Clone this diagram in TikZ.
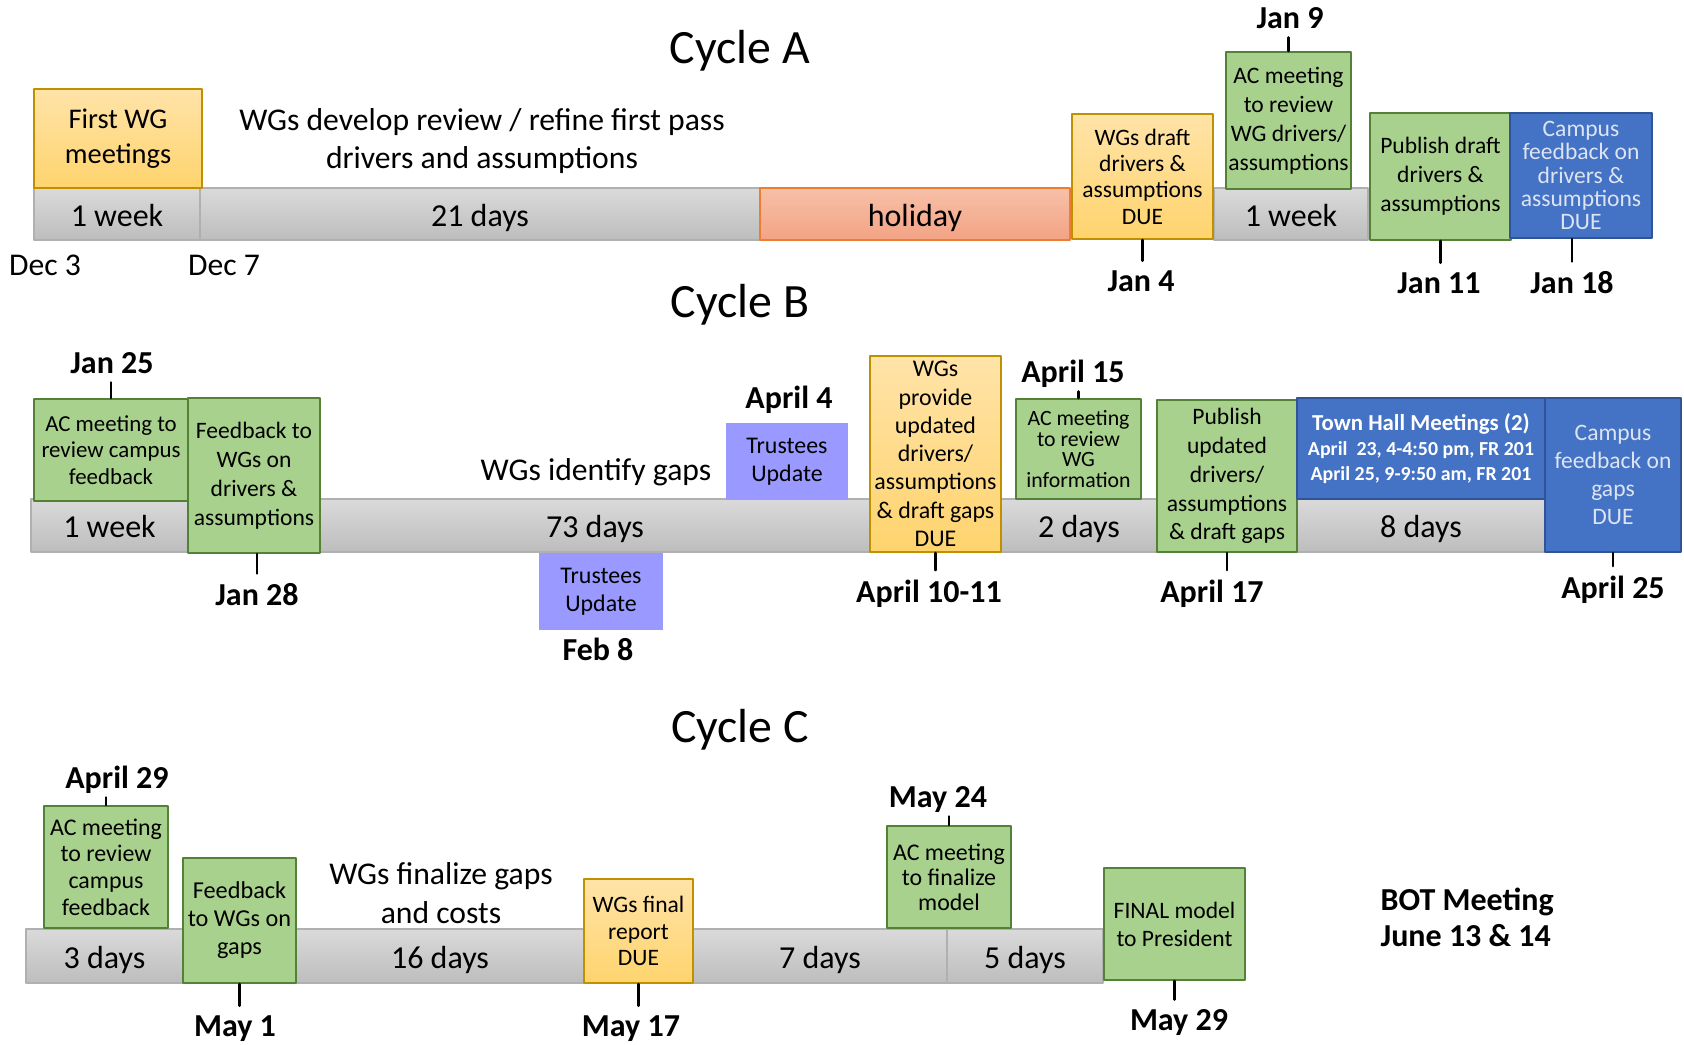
\documentclass[tikz,border=0pt]{standalone}
\usepackage{fontspec}
\setmainfont{Carlito}
\usetikzlibrary{positioning}

\definecolor{bartop}{HTML}{DADADA}
\definecolor{barbot}{HTML}{BDBDBD}
\definecolor{barline}{HTML}{B0B0B0}
\definecolor{goldtop}{HTML}{FFE3A8}
\definecolor{goldbot}{HTML}{FFD46E}
\definecolor{goldline}{HTML}{BF9000}
\definecolor{holtop}{HTML}{F7C0A8}
\definecolor{holbot}{HTML}{F3A384}
\definecolor{holline}{HTML}{ED7D31}
\definecolor{grnfill}{HTML}{A9D18E}
\definecolor{grnline}{HTML}{538135}
\definecolor{blufill}{HTML}{4472C4}
\definecolor{bluline}{HTML}{2F5597}
\definecolor{blutext}{HTML}{DCE4F2}
\definecolor{lavfill}{HTML}{9999FF}

\newcommand{\titletxt}{\fontsize{13.6}{15}\selectfont}
\newcommand{\bartxt}{\fontsize{9.1}{10}\selectfont}
\newcommand{\notetxt}{\fontsize{9}{11}\selectfont}
\newcommand{\datetxt}{\bfseries\fontsize{9.1}{10}\selectfont}
\newcommand{\boxtxt}{\fontsize{6.7}{8.2}\selectfont}

\tikzset{
  sz/.style 2 args={minimum width=#1*0.01cm, minimum height=#2*0.01cm},
  seg/.style={draw=barline, line width=0.5pt, top color=bartop, bottom color=barbot,
    inner sep=0pt, text height=0.7em, text depth=0pt, font=\bartxt},
  hol/.style={seg, draw=holline, top color=holtop, bottom color=holbot},
  gold/.style={draw=goldline, line width=0.6pt, top color=goldtop, bottom color=goldbot,
    align=center, inner sep=0pt, font=\boxtxt},
  grn/.style={draw=grnline, line width=0.6pt, fill=grnfill, align=center, inner sep=0pt, font=\boxtxt},
  blu/.style={draw=bluline, line width=0.6pt, fill=blufill, align=center, inner sep=0pt,
    text=blutext, font=\boxtxt},
  lav/.style={fill=lavfill, align=center, inner sep=0pt, font=\fontsize{6.8}{8}\selectfont},
  title/.style={anchor=base, font=\titletxt},
  note/.style={align=center, font=\notetxt},
  date/.style={anchor=base, inner sep=2.5pt, text depth=0pt, font=\datetxt},
  tick/.style={line width=0.8pt}
}

\begin{document}
\begin{tikzpicture}[x=0.01cm, y=-0.01cm, line join=round, line cap=round]
\useasboundingbox (0,0) rectangle (1684,1044);

% Cycle A
\node[title] (cyca) at (740,63) {Cycle A};
\node[seg, sz={166}{52}] (awk) at (117,214) {1 week};
\node[seg, sz={560}{52}] (a21) at (480,214) {21 days};
\node[hol, sz={310}{52}] (ahol) at (915,214) {holiday};
\node[seg, sz={154}{52}] (awkb) at (1291,214) {1 week};
\node[gold, sz={168}{99}, font=\fontsize{8.1}{9.8}\selectfont] (firstwg) at (118,138.5) {First WG\\meetings};
\node[gold, sz={141}{125}, font=\fontsize{6.7}{7.5}\selectfont] (wgdraft) at (1142.5,176.5) {WGs draft\\drivers \&\\assumptions\\DUE};
\node[grn, sz={125}{137}] (acrev) at (1288.5,120.5) {AC meeting\\to review\\WG drivers/\\assumptions};
\node[grn, sz={141}{127}] (pubdraft) at (1440.5,176.5) {Publish draft\\drivers \&\\assumptions};
\node[blu, sz={142}{125}, font=\fontsize{6.7}{6.6}\selectfont] (campa) at (1581,175.5) {Campus\\feedback on\\drivers \&\\assumptions\\DUE};
\node[note] (devtxt) at (482,141) {WGs develop review / refine first pass\\drivers and assumptions};
\node[anchor=base, font=\fontsize{9}{10}\selectfont] (dec3) at (45,275) {Dec 3};
\node[anchor=base, font=\fontsize{9}{10}\selectfont] (dec7) at (224,275) {Dec 7};
\node[date] (jan9) at (1290,28) {Jan 9};
\node[date] (jan4) at (1141,291) {Jan 4};
\node[date] (jan11) at (1439,293) {Jan 11};
\node[date] (jan18) at (1572,293) {Jan 18};
\draw[tick] (acrev.north) -- (acrev.north |- jan9.south);
\draw[tick] (wgdraft.south) -- (wgdraft.south |- jan4.north);
\draw[tick] (pubdraft.south) -- (pubdraft.south |- jan11.north);
\draw[tick] (jan18.north) -- (jan18.north |- campa.south);

% Cycle B
\node[title] (cycb) at (740,317) {Cycle B};
\node[seg, sz={157}{53}] (bwk) at (109.5,525.5) {1 week};
\node[seg, sz={550}{53}] (b73) at (595,525.5) {73 days};
\node[seg, sz={156}{53}] (b2d) at (1079,525.5) {2 days};
\node[seg, sz={248}{53}] (b8d) at (1421,525.5) {8 days};
\node[grn, sz={154}{102}, font=\fontsize{6.5}{7.6}\selectfont] (acfb) at (111,450) {AC meeting to\\review campus\\feedback};
\node[grn, sz={132}{155}, font=\fontsize{6.7}{8.2}\selectfont] (fbwg) at (254,475.5) {Feedback to\\WGs on\\drivers \&\\assumptions};
\node[lav, sz={122}{77}] (trapr) at (787,461.5) {Trustees\\Update};
\node[lav, sz={124}{77}] (trfeb) at (601,591.5) {Trustees\\Update};
\node[gold, sz={131}{196}, font=\fontsize{6.8}{8.05}\selectfont] (wgprov) at (935.5,454) {WGs\\provide\\updated\\drivers/\\assumptions\\\& draft gaps\\DUE};
\node[grn, sz={125}{100}, font=\fontsize{6.2}{5.9}\selectfont] (acinfo) at (1078.5,449) {AC meeting\\to review\\WG\\information};
\node[grn, sz={140}{152}, font=\fontsize{6.7}{8.2}\selectfont] (pubupd) at (1227,476) {Publish\\updated\\drivers/\\assumptions\\\& draft gaps};
\node[blu, sz={248}{101}, text=white, font=\bfseries\fontsize{5.65}{7.2}\selectfont] (town) at (1421,448.5)
  {{\fontsize{6.5}{7.2}\selectfont Town Hall Meetings (2)}\\April\ \ 23, 4-4:50 pm, FR 201\\April 25, 9-9:50 am, FR 201};
\node[blu, sz={136}{154}, font=\fontsize{6.7}{8}\selectfont] (campb) at (1613,475) {Campus\\feedback on\\gaps\\DUE};
\node[note, anchor=base] (gaptxt) at (596,480) {WGs identify gaps};
\node[date] (jan25) at (112,373) {Jan 25};
\node[date] (jan28) at (257,605) {Jan 28};
\node[date] (apr4) at (789,408) {April 4};
\node[date] (feb8) at (598,660) {Feb 8};
\node[date] (apr10) at (929,602) {April 10-11};
\node[date] (apr15) at (1073,382) {April 15};
\node[date] (apr17) at (1212,602) {April 17};
\node[date] (apr25) at (1613,598) {April 25};
\draw[tick] (acfb.north) -- (acfb.north |- jan25.south);
\draw[tick] (jan28.north) -- (jan28.north |- fbwg.south);
\draw[tick] (wgprov.south) -- (wgprov.south |- apr10.north);
\draw[tick] (acinfo.north) -- (acinfo.north |- apr15.south);
\draw[tick] (pubupd.south) -- (pubupd.south |- apr17.north);
\draw[tick] (campb.south) -- (campb.south |- apr25.north);

% Cycle C
\node[title] (cycc) at (740,742) {Cycle C};
\node[seg, sz={157}{54}] (c3d) at (104.5,956) {3 days};
\node[seg, sz={288}{54}] (c16) at (440,956) {16 days};
\node[seg, sz={254}{54}] (c7d) at (820,956) {7 days};
\node[seg, sz={156}{54}] (c5d) at (1025,956) {5 days};
\node[grn, sz={124}{122}, font=\fontsize{6.8}{7.6}\selectfont] (acfbc) at (106,867) {AC meeting\\to review\\campus\\feedback};
\node[grn, sz={113}{125}, font=\fontsize{6.9}{8}\selectfont] (fbgap) at (239.5,920.5) {Feedback\\to WGs on\\gaps};
\node[gold, sz={109}{104}, font=\fontsize{6.7}{7.6}\selectfont] (finrep) at (638.5,931) {WGs final\\report\\DUE};
\node[grn, sz={124}{102}, font=\fontsize{6.8}{7.1}\selectfont] (acfin) at (949,877) {AC meeting\\to finalize\\model};
\node[grn, sz={141}{112}, font=\fontsize{6.7}{8}\selectfont] (finpres) at (1174.5,924) {FINAL model\\to President};
\node[note] (fintxt) at (441,893) {WGs finalize gaps\\and costs};
\node[anchor=north west, align=left, inner sep=0pt, font=\bfseries\fontsize{9.1}{10.4}\selectfont] (bot) at (1380,887) {BOT Meeting\\June 13 \& 14};
\node[date] (apr29) at (117,788) {April 29};
\node[date] (may1) at (235,1036) {May 1};
\node[date] (may17) at (631,1036) {May 17};
\node[date] (may24) at (938,807) {May 24};
\node[date] (may29) at (1179,1030) {May 29};
\draw[tick] (acfbc.north) -- (acfbc.north |- apr29.south);
\draw[tick] (fbgap.south) -- (fbgap.south |- may1.north);
\draw[tick] (finrep.south) -- (finrep.south |- may17.north);
\draw[tick] (acfin.north) -- (acfin.north |- may24.south);
\draw[tick] (finpres.south) -- (finpres.south |- may29.north);
\end{tikzpicture}
\end{document}
